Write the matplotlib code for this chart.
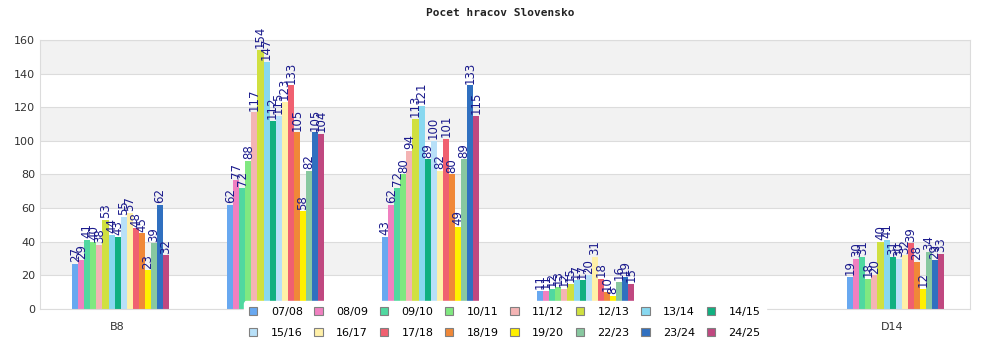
import numpy as np
import matplotlib
matplotlib.use("Agg")
import matplotlib.pyplot as plt
from matplotlib.patches import Rectangle

categories = ["B8", "", "", "", "", "D14"]
seasons = ["07/08", "08/09", "09/10", "10/11", "11/12", "12/13", "13/14", "14/15",
           "15/16", "16/17", "17/18", "18/19", "19/20", "22/23", "23/24", "24/25"]
colors = ["#68a8f0", "#f080c0", "#50d8a0", "#80e880", "#f4b4b4", "#d0e040",
          "#88d8f0", "#10b080", "#b8e0f8", "#fff0a8", "#f06070", "#f08838",
          "#fff000", "#88c8a0", "#3070c0", "#c04880"]

nan = np.nan
s0708 = [27, 62, 43, 11, nan, 19]
s0809 = [29, 77, 62, 11, nan, 30]
s0910 = [41, 72, 72, 12, nan, 31]
s1011 = [40, 88, 80, 13, nan, 18]
s1112 = [38, 117, 94, 12, nan, 20]
s1213 = [53, 154, 113, 15, nan, 40]
s1314 = [44, 147, 121, 17, nan, 41]
s1415 = [43, 112, 89, 17, nan, 31]
s1516 = [55, 115, 100, 20, nan, 30]
s1617 = [57, 123, 82, 31, nan, 32]
s1718 = [48, 133, 101, 18, nan, 39]
s1819 = [45, 105, 80, 10, nan, 28]
s1920 = [23, 58, 49, 8, nan, 12]
s2223 = [39, 82, 89, 16, nan, 34]
s2324 = [62, 105, 133, 19, nan, 29]
s2425 = [32, 104, 115, 15, nan, 33]

series = [s0708, s0809, s0910, s1011, s1112, s1213, s1314, s1415,
          s1516, s1617, s1718, s1819, s1920, s2223, s2324, s2425]
yticks = [0, 20, 40, 60, 80, 100, 120, 140, 160]

fig = plt.figure(figsize=(10, 3.5), dpi=100)
ax = fig.add_axes([0.04, 0.117, 0.93, 0.769])

# alternating horizontal bands
for i, (lo, hi) in enumerate(zip(yticks[:-1], yticks[1:])):
    if i % 2 == 1:
        ax.axhspan(lo, hi, color="#f2f2f2", zorder=0, lw=0)
for y in yticks:
    ax.axhline(y, color="#dcdcdc", lw=0.8, zorder=0.5)

x = np.arange(len(categories))
n = len(series)
bw = 0.039
offsets = (np.arange(n) - (n - 1) / 2) * bw + 0.02

for s, vals, col, off in zip(seasons, series, colors, offsets):
    vals = np.array(vals, dtype=float)
    ax.bar(x + off, vals, width=bw, color=col, zorder=2, label=s, lw=0)
    for xi, v in zip(x + off, vals):
        if np.isnan(v):
            continue
        ax.text(xi, v + 1, f"{int(v)}", rotation=90, ha="center", va="bottom",
                fontsize=8.5, color="#1a1a8c", zorder=3)

ax.set_xlim(-0.5, len(categories) - 0.5)
ax.set_ylim(0, 160)
ax.set_yticks(yticks)
ax.set_xticks(x)
ax.set_xticklabels(categories)
ax.tick_params(axis="both", length=0, labelsize=8, colors="#333333")
ax.tick_params(axis="x", pad=9)
for sp in ax.spines.values():
    sp.set_color("#dcdcdc")
    sp.set_linewidth(0.8)

fig.text(0.5, 0.962, "Pocet hracov Slovensko", ha="center", va="center",
         fontsize=8, family="DejaVu Sans Mono", fontweight="bold", color="#222222")

# legend laid out row by row: 8 entries per row
ncol = 8
nrow = int(np.ceil(len(seasons) / ncol))
order = [r * ncol + c for c in range(ncol) for r in range(nrow)]
handles = [Rectangle((0, 0), 1, 1, facecolor=c, edgecolor="#808080", lw=0.8) for c in colors]
leg = fig.legend([handles[i] for i in order], [seasons[i] for i in order],
                 ncol=ncol, loc="upper left",
                 bbox_to_anchor=(0.238, 0.155), frameon=True, fontsize=8,
                 handlelength=0.75, handleheight=0.75, handletextpad=1.2,
                 columnspacing=1.05, labelspacing=1.0, borderpad=0.5)
leg.get_frame().set_facecolor("white")
leg.get_frame().set_edgecolor("white")
leg.get_frame().set_alpha(1)
leg.set_zorder(10)

fig.savefig("out.png", dpi=100, facecolor="white")
